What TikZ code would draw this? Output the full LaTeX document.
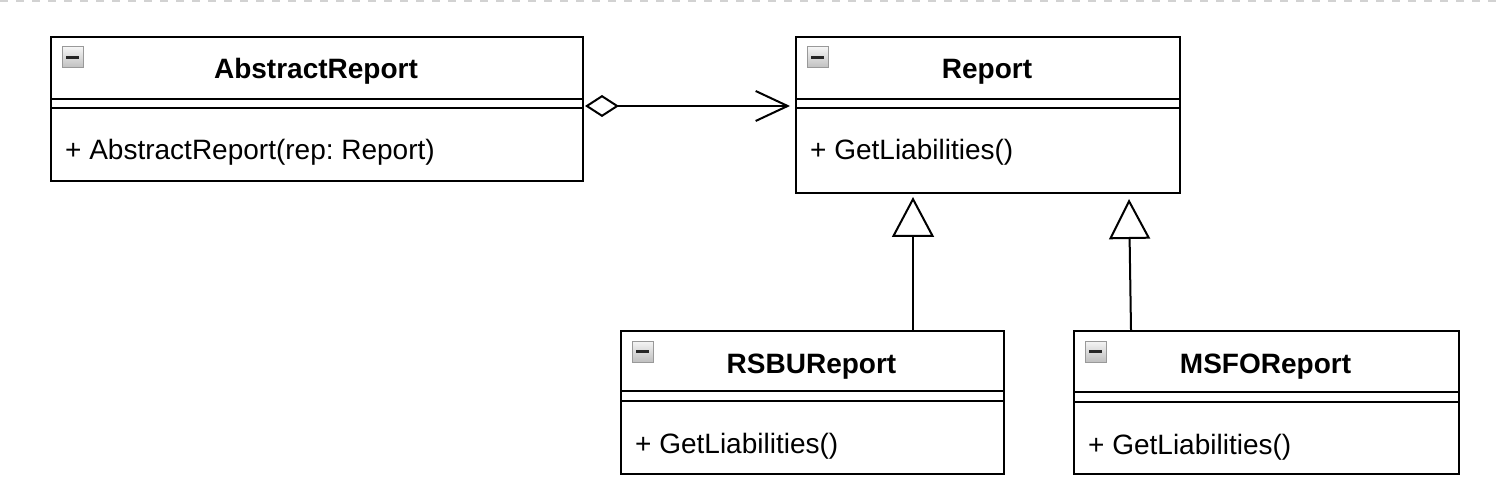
\documentclass[tikz,border=0pt]{standalone}
\usepackage{fontspec}
\setmainfont{Liberation Sans}
\usetikzlibrary{arrows.meta,calc}
\frenchspacing
\tikzset{
  clsbox/.style={draw=black, line width=2pt, fill=white, rectangle, inner sep=0pt, anchor=north west},
  sepline/.style={draw=black, line width=2pt},
  clstitle/.style={font=\fontsize{28}{34}\selectfont\bfseries, anchor=base, inner sep=0pt},
  clsmember/.style={font=\fontsize{28}{34}\selectfont, anchor=base west, inner sep=0pt},
  iconbox/.style={draw=gray!80, line width=1pt, top color=gray!8, bottom color=gray!50,
    minimum size=21pt, inner sep=0pt, rectangle,
    path picture={\draw[line width=3pt, black!85] ([xshift=4pt]path picture bounding box.west) -- ([xshift=-4pt]path picture bounding box.east);}},
  conn/.style={draw=black, line width=2pt},
}
% name, x1, y1, x2, y2, sep1, sep2, title, member
\newcommand\umlcls[9]{%
  \node[clsbox, minimum width={(#4-#2)*1pt}, minimum height={(#5-#3)*1pt}] (#1) at (#2,#3) {};
  \draw[sepline] (#2,#6) -- (#4,#6);
  \draw[sepline] (#2,#7) -- (#4,#7);
  \node[iconbox] (#1-icon) at (#2+22.5,#3+21.5) {};
  \node[clstitle] (#1-title) at ({(#2+#4)/2},#3+43) {#8};
  \node[clsmember] (#1-member) at (#2+15,#7+52) {#9};
}
\begin{document}
\begin{tikzpicture}[x=1pt,y=-1pt]
\useasboundingbox (0,0) rectangle (1498,502);
\draw[gray!35, line width=1.5pt, dash pattern=on 8pt off 8pt] (0,1) -- (1498,1);

\umlcls{ar}{50}{36}{582}{180}{99}{108}{AbstractReport}{+ AbstractReport(rep: Report)}
\umlcls{rep}{795}{36}{1179}{192}{99}{108}{Report}{+ GetLiabilities()}
\umlcls{rsbu}{620}{330}{1003}{473}{391}{401}{RSBUReport}{+ GetLiabilities()}
\umlcls{msfo}{1073}{330}{1458}{473}{392}{402}{MSFOReport}{+ GetLiabilities()}

% aggregation
\draw[conn, {Diamond[open, length=34pt, width=22pt, line width=2pt]}-{Straight Barb[length=32pt, width=30pt, line width=2pt]}]
  ($(ar.north east)+(1,70)$) -- ($(rep.north west)+(-5,70)$);

% generalizations
\draw[conn, -{Triangle[open, length=40pt, width=42pt, line width=2pt]}]
  ($(rsbu.north west)+(293,0)$) -- ($(rep.south west)+(118,3)$);
\draw[conn, -{Triangle[open, length=40pt, width=41pt, line width=2pt]}]
  ($(msfo.north west)+(58,0)$) -- ($(rep.south west)+(334,5)$);
\end{tikzpicture}
\end{document}
